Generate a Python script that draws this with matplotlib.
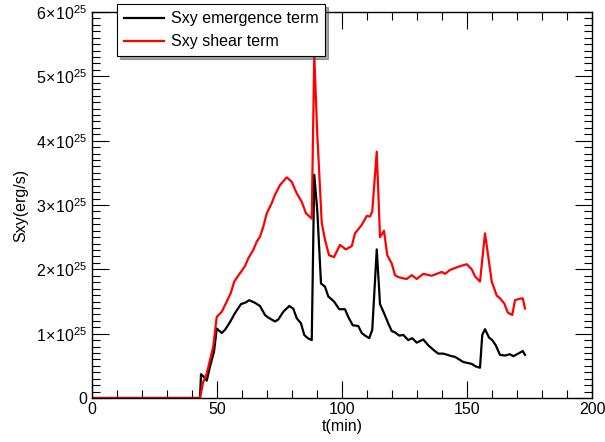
import numpy as np
import matplotlib
matplotlib.use('Agg')
from matplotlib import pyplot as plt
from matplotlib.ticker import MultipleLocator, FuncFormatter

# time (min) and Sxy (units of 1e25 erg/s)
t_emerg = [0, 43.2, 43.6, 44.7, 45.9, 47.2, 48.8, 49.9, 51.9, 53.2, 55.2, 57.2, 59.6,
           61.2, 62.9, 65.2, 67.2, 69.2, 70.5, 73.2, 74.5, 76.5, 78.9, 80.5, 81.9,
           83.6, 84.9, 86.3, 87.9, 88.9, 90.1, 91.6, 93.2, 94.5, 96.8, 98.9, 101.2,
           102.5, 104.3, 106.5, 107.9, 109.2, 110.9, 112.1, 113.9, 115.2, 116.8,
           118.5, 119.9, 121.2, 122.9, 124.5, 126.5, 128.1, 129.9, 132.5, 134.5,
           136.5, 138.5, 140.5, 143.9, 145.2, 148.5, 151.9, 153.5, 155.2, 156.1,
           157.2, 158.8, 160.1, 161.5, 163.2, 165.2, 167.2, 168.5, 170.5, 172.3, 173.2]
s_emerg = [0, 0, 0.37, 0.33, 0.27, 0.49, 0.72, 1.08, 1.01, 1.06, 1.18, 1.32, 1.46,
           1.48, 1.52, 1.48, 1.43, 1.29, 1.25, 1.19, 1.22, 1.34, 1.43, 1.39, 1.24,
           1.16, 0.98, 0.93, 0.90, 3.47, 2.92, 1.78, 1.73, 1.58, 1.50, 1.38, 1.38,
           1.26, 1.13, 1.12, 1.01, 0.97, 0.93, 1.06, 2.31, 1.46, 1.32,
           1.16, 1.04, 1.02, 0.97, 0.98, 0.90, 0.93, 0.86, 0.91, 0.82,
           0.75, 0.69, 0.69, 0.65, 0.64, 0.56, 0.53, 0.49, 0.47, 0.98,
           1.07, 0.94, 0.90, 0.82, 0.67, 0.66, 0.68, 0.65, 0.69, 0.73, 0.67]

t_shear = [0, 43.2, 44.5, 45.9, 47.2, 48.5, 49.9, 51.9, 53.9, 55.5, 56.9, 59.2, 61.2,
           62.5, 64.5, 65.9, 67.2, 68.5, 69.9, 71.9, 73.2, 75.2, 77.9, 79.9, 81.9,
           83.9, 85.6, 87.9, 88.9, 90.1, 91.9, 93.2, 94.8, 96.8, 99.2, 101.5, 103.9,
           105.2, 107.9, 109.9, 111.2, 112.1, 113.9, 115.2, 116.8, 118.1, 119.9,
           121.2, 122.5, 124.5, 125.9, 127.9, 129.9, 132.5, 135.9, 139.9, 141.2,
           143.2, 146.5, 149.9, 151.9, 153.2, 155.2, 157.2, 158.5, 159.9, 161.9,
           163.2, 164.9, 166.3, 168.1, 169.2, 170.8, 172.3, 173.2]
s_shear = [0, 0, 0.25, 0.38, 0.59, 0.80, 1.26, 1.34, 1.50, 1.63, 1.81, 1.94, 2.05,
           2.17, 2.30, 2.43, 2.51, 2.66, 2.87, 3.03, 3.16, 3.31, 3.43, 3.36, 3.18,
           3.05, 2.87, 2.79, 5.33, 4.11, 2.72, 2.46, 2.22, 2.19, 2.38, 2.31, 2.36,
           2.56, 2.69, 2.83, 2.82, 2.90, 3.83, 2.50, 2.60, 2.22, 2.09,
           1.91, 1.88, 1.86, 1.85, 1.91, 1.85, 1.93, 1.90, 1.96, 1.93,
           1.99, 2.04, 2.08, 2.00, 1.89, 1.81, 2.56, 2.20, 1.81, 1.59,
           1.55, 1.47, 1.33, 1.29, 1.52, 1.54, 1.55, 1.39]

x_ticks = [0, 50, 100, 150, 200]
y_ticks = [0, 1, 2, 3, 4, 5, 6]

plt.rcParams['font.family'] = ['Liberation Sans', 'DejaVu Sans']
plt.rcParams['mathtext.fontset'] = 'custom'
plt.rcParams['mathtext.rm'] = 'Liberation Sans'
plt.rcParams['mathtext.it'] = 'Liberation Sans'

fig = plt.figure(figsize=(6.05, 4.42), dpi=100)
ax = fig.add_axes([92 / 605, 44 / 442, 500 / 605, 386 / 442])

ax.plot(t_emerg, np.array(s_emerg) * 1e25, color='black', lw=1.6, label='Sxy emergence term')
ax.plot(t_shear, np.array(s_shear) * 1e25, color='red', lw=1.6, label='Sxy shear term')

ax.set_xlim(0, 200)
ax.set_ylim(0, 6e25)
ax.set_xticks(x_ticks)
ax.set_yticks([v * 1e25 for v in y_ticks])
ax.xaxis.set_minor_locator(MultipleLocator(10))
ax.yaxis.set_minor_locator(MultipleLocator(1e24))


def fmt(v, pos):
    n = int(round(v / 1e25))
    if n == 0:
        return '0'
    return r'$%d\!\times\!10^{25}$' % n


ax.yaxis.set_major_formatter(FuncFormatter(fmt))
ax.tick_params(which='both', direction='in', top=True, right=True, labelsize=11.5, width=0.8)
ax.tick_params(which='major', length=12)
ax.tick_params(which='minor', length=6)
ax.tick_params(axis='x', pad=3)
for s in ax.spines.values():
    s.set_linewidth(1.0)

ax.set_xlabel('t(min)', fontsize=11.5, labelpad=1)
ax.set_ylabel('Sxy(erg/s)', fontsize=11.5, labelpad=6)

leg = ax.legend(loc='upper left', bbox_to_anchor=(117 / 605, 1 - 4 / 442),
                bbox_transform=fig.transFigure, borderaxespad=0, fancybox=False,
                shadow=True, framealpha=1, edgecolor='black', fontsize=11.5,
                handlelength=2.5, handletextpad=0.4, borderpad=0.45, labelspacing=0.5)
leg.get_frame().set_linewidth(0.8)

fig.savefig('out.png', dpi=100)
